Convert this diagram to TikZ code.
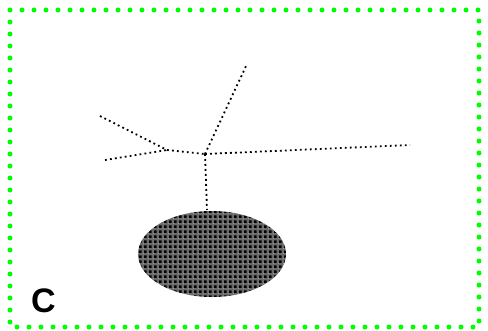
\documentclass[tikz,border=0pt]{standalone}
\usepackage{fontspec}
\setmainfont{Liberation Sans}
\usetikzlibrary{shapes.geometric,patterns.meta}
\definecolor{brightgreen}{RGB}{0,255,0}
\pgfdeclarepattern{
  name=blobcheck, type=colored,
  bottom left={\pgfpoint{0pt}{0pt}}, top right={\pgfpoint{5.33pt}{5.33pt}},
  tile size={\pgfpoint{5.33pt}{5.33pt}},
  code={
    \pgfsetfillcolor{black!58}
    \pgfpathrectangle{\pgfpoint{0pt}{0pt}}{\pgfpoint{5.33pt}{5.33pt}}\pgfusepath{fill}
    \pgfsetfillcolor{black}
    \pgfpathrectangle{\pgfpoint{1.4pt}{1.4pt}}{\pgfpoint{2.53pt}{2.53pt}}\pgfusepath{fill}
    \pgfsetfillcolor{black!15}
    \pgfpathrectangle{\pgfpoint{0pt}{0pt}}{\pgfpoint{0.7pt}{0.7pt}}\pgfusepath{fill}
  }
}
\tikzset{
  frameline/.style={brightgreen, line width=5pt, line cap=round, dash pattern=on 0pt off 12pt},
  dotline/.style={black, line width=1.8pt, dash pattern=on 1.8pt off 3.2pt},
  blob/.style={ellipse, draw=none, minimum width=148pt, minimum height=86pt, inner sep=0pt,
    pattern=blobcheck},
  lbl/.style={font=\fontsize{34}{34}\selectfont\bfseries, inner sep=0pt, anchor=south west}
}
\begin{document}
\begin{tikzpicture}[x=1pt,y=-1pt]
\useasboundingbox (0,0) rectangle (488,330);
\draw[frameline] (10,10) rectangle (479,327);
\coordinate (ul) at (100,116);
\coordinate (ll) at (105,160);
\coordinate (ja) at (167,150);
\coordinate (jb) at (205,154);
\coordinate (tp) at (247,64);
\coordinate (rt) at (410,145);
\node[blob] (e) at (212,254) {};
\coordinate (eb) at (207,210);
\draw[dotline] (ul) -- (ja);
\draw[dotline] (ll) -- (ja);
\draw[dotline] (ja) -- (jb);
\draw[dotline] (jb) -- (tp);
\draw[dotline] (jb) -- (rt);
\draw[dotline] (jb) -- (eb);
\node[lbl] (c) at (31,313) {C};
\end{tikzpicture}
\end{document}
